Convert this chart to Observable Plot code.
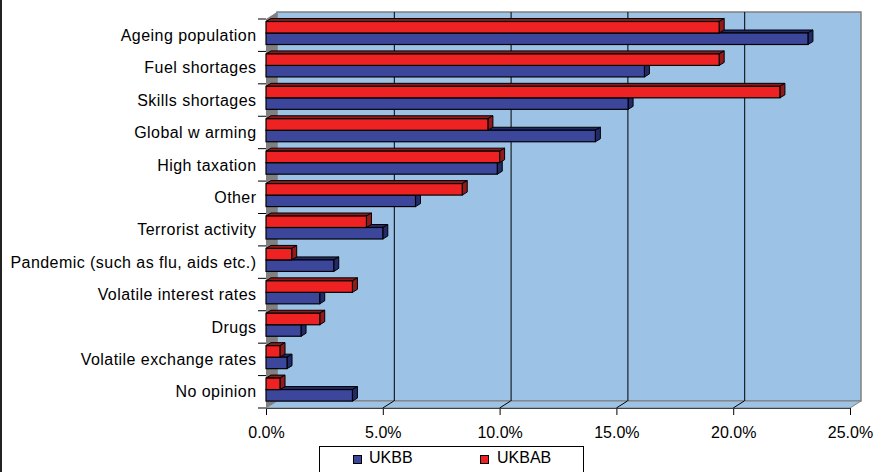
<!DOCTYPE html>
<html><head><meta charset="utf-8">
<script src="https://cdn.jsdelivr.net/npm/d3@7"></script>
<script src="https://cdn.jsdelivr.net/npm/@observablehq/plot@0.6"></script>
<style>
body{margin:0;background:#fff;font-family:"Liberation Sans",Arial,sans-serif;}
#wrap{position:relative;width:874px;height:472px;overflow:hidden;background:#fff;}
#edge{position:absolute;left:0;top:0;width:2px;height:472px;background:#222;}
#legend{position:absolute;left:319px;top:446px;width:263px;height:40px;border:1px solid #000;background:#fff;}
.sw{position:absolute;width:7px;height:7px;border:1px solid #000;}
.lt{position:absolute;font-size:16px;line-height:16px;color:#000;white-space:nowrap;}
</style></head><body><div id="wrap"><div id="edge"></div></div>
<script>
const categories = ["Ageing population", "Fuel shortages", "Skills shortages", "Global w arming", "High taxation", "Other", "Terrorist activity", "Pandemic (such as flu, aids etc.)", "Volatile interest rates", "Drugs", "Volatile exchange rates", "No opinion"];
const ukbb  = [23.2, 16.2, 15.5, 14.1, 9.9, 6.4, 5.0, 2.9, 2.3, 1.5, 0.9, 3.7];
const ukbab = [19.4, 19.4, 22.0, 9.5, 10.0, 8.4, 4.3, 1.1, 3.7, 2.3, 0.6, 0.6];
const seriesNames = ["UKBB", "UKBAB"];
const xTicks = [0, 5, 10, 15, 20, 25];

const COLORS = {UKBB: "#3c479c", UKBAB: "#ee2222"};
const DARK = {UKBB: "#232a6a", UKBAB: "#931a1a"};
const WALL = "#9cc3e6";
const SIDE = "#808080";
const WD = {dx: 11, dy: -7};   // wall depth
const BD = {dx: 5, dy: -3};    // bar depth

const W = 874, H = 446, mL = 266, mR = 24, mT = 19, mB = 38;
const bw = (H - mT - mB) / categories.length;
const BAR_H = 11.5, RED_OFF = 2.5;
const OFF = {UKBAB: RED_OFF, UKBB: RED_OFF + BAR_H};

const rows = categories.flatMap((c, i) => [
  {category: c, series: "UKBB", value: ukbb[i]},
  {category: c, series: "UKBAB", value: ukbab[i]}
]);

function walls(index, scales, values, dims) {
  const x0 = scales.x(0), x1 = scales.x(25);
  const yT = dims.marginTop, yB = dims.height - dims.marginBottom;
  const g = d3.create("svg:g");
  g.append("rect").attr("x", x0 + WD.dx).attr("y", yT + WD.dy).attr("width", x1 - x0).attr("height", yB - yT)
    .attr("fill", WALL).attr("stroke", SIDE).attr("stroke-width", 1.5);
  g.append("path").attr("d", `M${x0},${yB}L${x1},${yB}L${x1 + WD.dx},${yB + WD.dy}L${x0 + WD.dx},${yB + WD.dy}Z`)
    .attr("fill", WALL).attr("stroke", SIDE).attr("stroke-width", 1);
  g.append("path").attr("d", `M${x0},${yT}L${x0 + WD.dx},${yT + WD.dy}L${x0 + WD.dx},${yB + WD.dy}L${x0},${yB}Z`)
    .attr("fill", SIDE);
  xTicks.slice(1, -1).forEach(v => {
    const x = scales.x(v);
    g.append("line").attr("x1", x).attr("y1", yB).attr("x2", x + WD.dx).attr("y2", yB + WD.dy).attr("stroke", "#000");
  });
  const bounds = categories.map(c => scales.y(c)).concat([scales.y(categories[categories.length - 1]) + bw]);
  bounds.forEach(y => {
    g.append("line").attr("x1", x0 - 8).attr("x2", x0).attr("y1", y).attr("y2", y).attr("stroke", "#000");
  });
  return g.node();
}

function faces(name) {
  return (index, scales, values, dims) => {
    const g = d3.create("svg:g").attr("fill", DARK[name]).attr("stroke", "#000").attr("stroke-width", 1).attr("stroke-linejoin", "round");
    rows.filter(r => r.series === name).forEach(r => {
      const x0 = scales.x(0), x1 = scales.x(r.value);
      const y0 = scales.y(r.category) + OFF[name], y1 = y0 + BAR_H;
      g.append("path").attr("d", `M${x0},${y0}L${x0 + BD.dx},${y0 + BD.dy}L${x1 + BD.dx},${y0 + BD.dy}L${x1},${y0}Z`);
      g.append("path").attr("d", `M${x1},${y0}L${x1 + BD.dx},${y0 + BD.dy}L${x1 + BD.dx},${y1 + BD.dy}L${x1},${y1}Z`);
    });
    return g.node();
  };
}

function bars(name) {
  return Plot.barX(rows.filter(r => r.series === name), {
    x: "value", y: "category", fill: COLORS[name], stroke: "#000", strokeWidth: 1.2,
    insetTop: OFF[name], insetBottom: bw - OFF[name] - BAR_H
  });
}

const chart = Plot.plot({
  width: W, height: H,
  marginLeft: mL, marginRight: mR, marginTop: mT, marginBottom: mB,
  style: {fontFamily: '"Liberation Sans", Arial, sans-serif', fontSize: "16px", color: "#000", background: "transparent", overflow: "visible"},
  x: {domain: [0, 25], ticks: xTicks, tickFormat: d => d.toFixed(1) + "%", tickSize: 7, tickPadding: 11, line: true, label: null},
  y: {domain: categories, padding: 0, round: false, tickSize: 0, tickPadding: 10, line: true, label: null},
  marks: [
    walls,
    Plot.ruleX(xTicks.slice(1, -1), {dx: WD.dx, dy: WD.dy, stroke: "#000", strokeWidth: 1}),
    faces("UKBB"),
    bars("UKBB"),
    faces("UKBAB"),
    bars("UKBAB")
  ]
});
chart.style.position = "absolute";
chart.style.left = "0px";
chart.style.top = "0px";
chart.querySelectorAll('[aria-label="y-axis tick label"] text').forEach(t => {
  t.style.letterSpacing = "0.45px";
});
const wrap = document.getElementById("wrap");
wrap.appendChild(chart);

const legend = document.createElement("div");
legend.id = "legend";
wrap.appendChild(legend);
const legendPos = {UKBB: {sw: 33, tx: 49}, UKBAB: {sw: 160, tx: 177}};
seriesNames.forEach(name => {
  const sw = document.createElement("div");
  sw.className = "sw";
  sw.style.left = legendPos[name].sw + "px";
  sw.style.top = "8px";
  sw.style.background = COLORS[name];
  legend.appendChild(sw);
  const t = document.createElement("div");
  t.className = "lt";
  t.style.left = legendPos[name].tx + "px";
  t.style.top = "3px";
  t.textContent = name;
  legend.appendChild(t);
});
</script></body></html>
